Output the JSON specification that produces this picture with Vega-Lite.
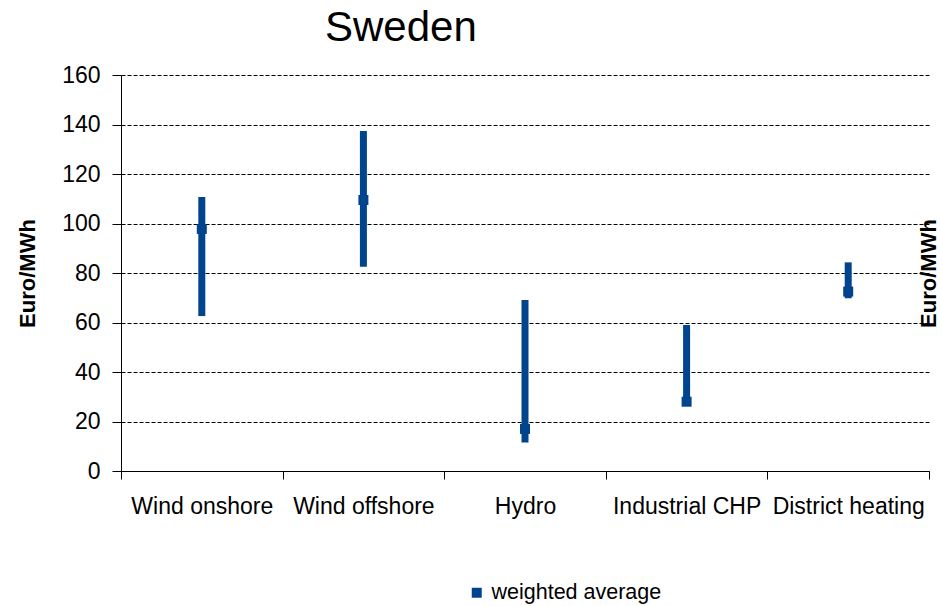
{
  "$schema": "https://vega.github.io/schema/vega-lite/v6.json",
  "width": 808,
  "height": 396,
  "autosize": {"type": "none"},
  "padding": {"left": 121, "top": 75, "right": 13, "bottom": 135},
  "background": "white",
  "config": {
    "view": {"stroke": null},
    "font": "Liberation Sans"
  },
  "title": {
    "text": "Sweden",
    "fontSize": 42,
    "fontWeight": "normal",
    "font": "Liberation Sans",
    "color": "black",
    "anchor": "start",
    "frame": "group",
    "dx": 204,
    "offset": 14
  },
  "data": {
    "values": [
      {"tech": "Wind onshore", "low": 62.6, "high": 110.7, "avg": 97.8, "series": "weighted average"},
      {"tech": "Wind offshore", "low": 82.5, "high": 137.4, "avg": 109.5, "series": "weighted average"},
      {"tech": "Hydro", "low": 11.5, "high": 69.1, "avg": 17, "series": "weighted average"},
      {"tech": "Industrial CHP", "low": 26.7, "high": 59, "avg": 28, "series": "weighted average"},
      {"tech": "District heating", "low": 69.8, "high": 84.3, "avg": 72.5, "series": "weighted average"}
    ]
  },
  "encoding": {
    "x": {
      "field": "tech",
      "type": "nominal",
      "sort": null,
      "scale": {"paddingInner": 0, "paddingOuter": 0},
      "axis": {
        "title": null,
        "labelAngle": 0,
        "labelFontSize": 23,
        "labelColor": "black",
        "labelPadding": 16,
        "labelFont": "Liberation Sans",
        "tickBand": "extent",
        "tickSize": 8,
        "tickColor": "black",
        "domainColor": "black",
        "grid": false,
        "labelLimit": 200
      }
    }
  },
  "layer": [
    {
      "encoding": {
        "y": {
          "field": "low",
          "type": "quantitative",
          "scale": {"domain": [0, 160]},
          "axis": {
            "title": "Euro/MWh",
            "titleFontSize": 22,
            "titleFontWeight": "bold",
            "titleColor": "black",
            "titlePadding": 22,
            "labelFontSize": 23,
            "labelColor": "black",
            "labelPadding": 12,
            "values": [0, 20, 40, 60, 80, 100, 120, 140, 160],
            "labelOverlap": false,
            "tickSize": 9,
            "tickColor": "black",
            "domainColor": "black",
            "grid": true,
            "gridColor": "black",
            "gridDash": [4, 2],
            "gridWidth": 1
          }
        }
      },
      "layer": [
        {
          "mark": {"type": "rule", "strokeWidth": 7, "color": "#00448E"},
          "encoding": {
            "y2": {"field": "high"}
          }
        },
        {
          "mark": {"type": "point", "shape": "square", "filled": true, "size": 100, "opacity": 1},
          "encoding": {
            "y": {"field": "avg", "type": "quantitative"},
            "color": {
              "field": "series",
              "type": "nominal",
              "scale": {"range": ["#00448E"]},
              "legend": {
                "title": null,
                "orient": "none",
                "legendX": 345,
                "legendY": 507,
                "labelFontSize": 21.5,
                "labelColor": "black",
                "labelLimit": 400,
                "symbolSize": 100,
                "symbolType": "square",
                "labelFont": "Liberation Sans"
              }
            }
          }
        }
      ]
    },
    {
      "mark": {"type": "point", "opacity": 0},
      "encoding": {
        "y": {
          "field": "avg",
          "type": "quantitative",
          "scale": {"domain": [0, 160]},
          "axis": {
            "orient": "right",
            "title": "Euro/MWh",
            "titleFontSize": 22,
            "titleFontWeight": "bold",
            "titleColor": "black",
            "titleAngle": -90,
            "titleBaseline": "top",
            "titlePadding": -11,
            "labels": false,
            "ticks": false,
            "domain": false,
            "grid": false
          }
        }
      }
    }
  ],
  "resolve": {"scale": {"y": "independent"}, "axis": {"y": "independent"}}
}
